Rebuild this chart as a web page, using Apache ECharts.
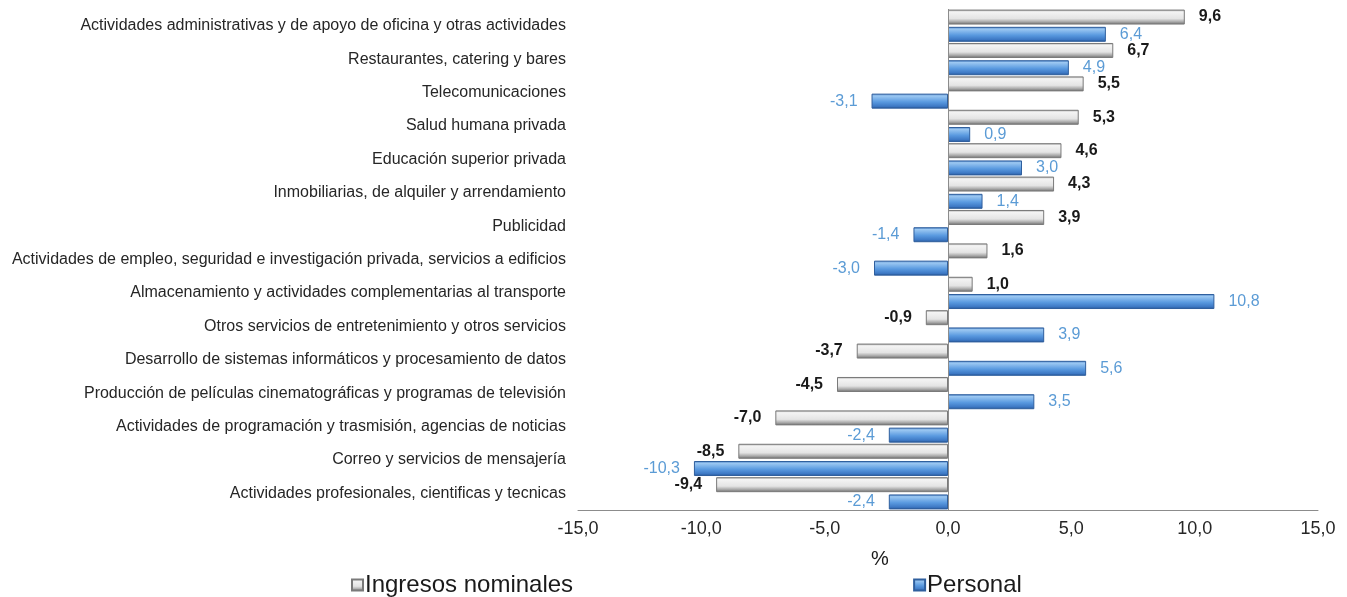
<!DOCTYPE html>
<html>
<head>
<meta charset="utf-8">
<title>Ingresos nominales y personal</title>
<script src="https://cdn.jsdelivr.net/npm/echarts@6/dist/echarts.min.js"></script>
<style>
  html, body { margin: 0; padding: 0; background: #fff; }
  #main { width: 1347px; height: 597px; }
</style>
</head>
<body>
<div id="main"></div>
<script>
// datos
var categorias = [
  'Actividades administrativas y de apoyo de oficina y otras actividades',
  'Restaurantes, catering y bares',
  'Telecomunicaciones',
  'Salud humana privada',
  'Educación superior privada',
  'Inmobiliarias, de alquiler y arrendamiento',
  'Publicidad',
  'Actividades de empleo, seguridad e investigación privada, servicios a edificios',
  'Almacenamiento y actividades complementarias al transporte',
  'Otros servicios de entretenimiento y otros servicios',
  'Desarrollo de sistemas informáticos y procesamiento de datos',
  'Producción de películas cinematográficas y programas de televisión',
  'Actividades de programación y trasmisión, agencias de noticias',
  'Correo y servicios de mensajería',
  'Actividades profesionales, cientificas y tecnicas'
];
var ingresos = [9.6, 6.7, 5.5, 5.3, 4.6, 4.3, 3.9, 1.6, 1.0, -0.9, -3.7, -4.5, -7.0, -8.5, -9.4];
var personal = [6.4, 4.9, -3.1, 0.9, 3.0, 1.4, -1.4, -3.0, 10.8, 3.9, 5.6, 3.5, -2.4, -10.3, -2.4];

var fmt = function (v) { return v.toFixed(1).replace('.', ','); };

// etiqueta a la derecha si es positivo, a la izquierda si es negativo
function conEtiqueta(arr) {
  return arr.map(function (v) {
    return { value: v, label: { position: v < 0 ? 'left' : 'right' } };
  });
}

var gris = new echarts.graphic.LinearGradient(0, 0, 0, 1, [
  { offset: 0, color: '#9a9a9a' },
  { offset: 0.15, color: '#f4f4f4' },
  { offset: 0.6, color: '#e4e4e4' },
  { offset: 0.82, color: '#a8a8a8' },
  { offset: 1, color: '#6a6a6a' }
]);
var azul = new echarts.graphic.LinearGradient(0, 0, 0, 1, [
  { offset: 0, color: '#3f78c0' },
  { offset: 0.15, color: '#9cc8f2' },
  { offset: 0.55, color: '#5a9ae0' },
  { offset: 0.85, color: '#3d78c4' },
  { offset: 1, color: '#24528f' }
]);

var myChart = echarts.init(document.getElementById('main'));
var option = {
  animation: false,
  textStyle: { fontFamily: 'Liberation Sans, Arial, sans-serif' },
  title: {
    text: '%',
    left: 866,
    top: 544,
    textStyle: { fontSize: 20, fontWeight: 'normal', color: '#1a1a1a' }
  },
  legend: {
    data: ['Ingresos nominales', 'Personal'],
    left: 346,
    top: 568,
    itemGap: 340,
    itemWidth: 11,
    itemHeight: 11,
    icon: 'rect',
    textStyle: { fontSize: 24, color: '#1a1a1a', padding: [0, 0, 0, -3] }
  },
  grid: { left: 578, right: 29, top: 9, bottom: 87 },
  xAxis: {
    type: 'value',
    min: -15,
    max: 15,
    interval: 5,
    axisLine: { show: true, onZero: false, lineStyle: { color: '#8c8c8c' } },
    axisTick: { show: false },
    splitLine: { show: false },
    axisLabel: { fontSize: 18, color: '#262626', margin: 10, formatter: fmt }
  },
  yAxis: {
    type: 'category',
    data: categorias,
    inverse: true,
    axisLine: { show: false, onZero: false },
    axisTick: { show: false },
    axisLabel: { fontSize: 16, color: '#262626', margin: 12 }
  },
  series: [
    {
      name: 'Ingresos nominales',
      type: 'bar',
      data: conEtiqueta(ingresos),
      barWidth: 15,
      barGap: '15%',
      itemStyle: { color: gris, borderColor: '#7a7a7a', borderWidth: 1 },
      label: {
        show: true,
        distance: 14,
        fontSize: 16,
        fontWeight: 'bold',
        color: '#1a1a1a',
        formatter: function (p) { return fmt(p.value); }
      },
      markLine: {
        silent: true,
        symbol: 'none',
        label: { show: false },
        lineStyle: { color: '#8c8c8c', type: 'solid', width: 1 },
        data: [{ xAxis: 0 }]
      }
    },
    {
      name: 'Personal',
      type: 'bar',
      data: conEtiqueta(personal),
      barWidth: 15,
      itemStyle: { color: azul, borderColor: '#2f5f9e', borderWidth: 1 },
      label: {
        show: true,
        distance: 14,
        fontSize: 16,
        color: '#5b9bd5',
        formatter: function (p) { return fmt(p.value); }
      }
    }
  ]
};
myChart.setOption(option);
</script>
</body>
</html>
